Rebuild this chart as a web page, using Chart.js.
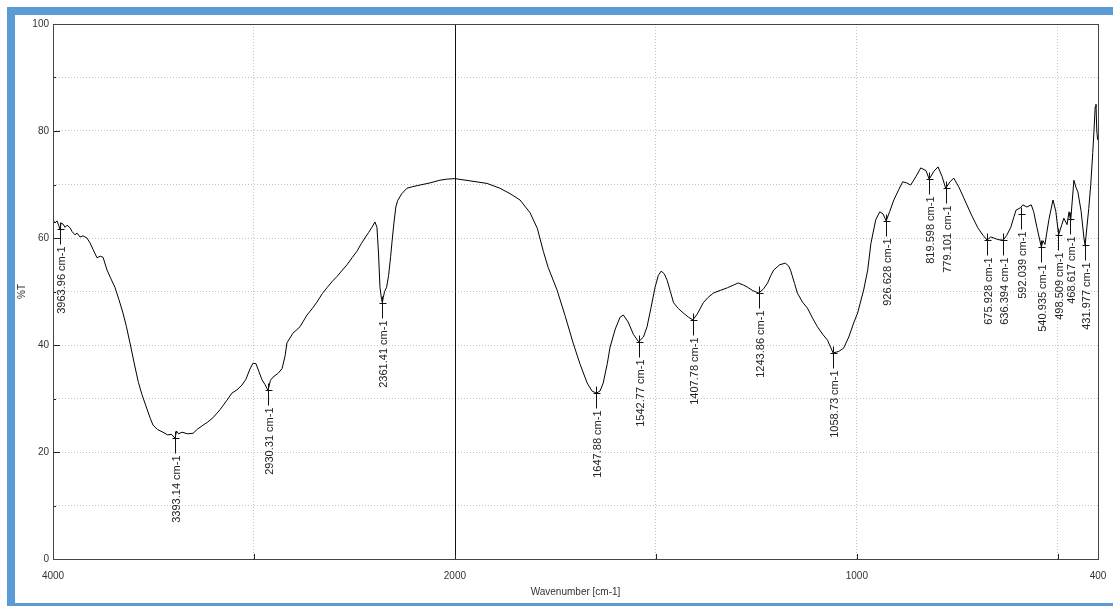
<!DOCTYPE html>
<html>
<head>
<meta charset="utf-8">
<title>FTIR spectrum</title>
<script src="https://cdn.jsdelivr.net/npm/chart.js@4/dist/chart.umd.min.js"></script>
<style>
html, body { margin: 0; padding: 0; background: #fff; }
canvas { display: block; }
</style>
</head>
<body>
<canvas id="ftir" width="1113" height="606"></canvas>
<script>
// spectrum (wavenumber in cm-1, %T)
var wavenumbers = [
    4000, 3990, 3980, 3972, 3965, 3960, 3950, 3940, 3930, 3915, 3905, 3891, 3880, 3866, 3850, 3831,
    3816, 3800, 3781, 3765, 3751, 3731, 3712, 3692, 3672, 3652, 3635, 3617, 3592, 3575, 3557, 3532,
    3515, 3502, 3480, 3453, 3430, 3410, 3393, 3385, 3375, 3358, 3330, 3303, 3280, 3254, 3230, 3204,
    3169, 3134, 3110, 3085, 3060, 3040, 3020, 3005, 2990, 2975, 2960, 2945, 2930, 2918, 2905, 2880,
    2860, 2845, 2836, 2806, 2771, 2736, 2710, 2687, 2660, 2637, 2610, 2587, 2560, 2537, 2510, 2488,
    2465, 2448, 2430, 2413, 2398, 2388, 2380, 2373, 2365, 2361, 2357, 2350, 2340, 2330, 2320, 2313,
    2303, 2294, 2285, 2264, 2239, 2210, 2174, 2124, 2075, 2040, 2000,
    1955, 1920, 1888, 1863, 1838, 1813, 1795, 1780, 1768, 1746, 1726, 1706, 1689, 1671, 1659, 1648,
    1639, 1631, 1621, 1614, 1601, 1589, 1581, 1569, 1556, 1543, 1531, 1522, 1512, 1502, 1494, 1487,
    1479, 1472, 1464, 1456, 1444, 1432, 1419, 1408, 1397, 1382, 1370, 1357, 1340, 1322, 1307, 1295,
    1282, 1272, 1260, 1244, 1232, 1222, 1214, 1207, 1192, 1178, 1170, 1165, 1155, 1148, 1135, 1123,
    1110, 1098, 1085, 1073, 1059, 1045, 1033, 1020, 1008, 998, 983, 973, 965, 953, 943, 935,
    927, 918, 908, 896, 886, 876, 866, 853, 841, 828, 820, 808, 798, 788, 779, 768,
    759, 746, 734, 716, 699, 686, 676, 667, 659, 649, 636, 627, 617, 609, 604, 592,
    587, 577, 566, 560, 552, 541, 537, 532, 522, 512, 505, 498, 490, 485, 477, 472,
    468, 460, 455, 450, 442, 435, 432, 423, 418, 413, 410, 407, 405, 403, 401, 400
];
var transmittance = [
    63.4, 62.8, 63.2, 62.4, 61.6, 62.8, 62.6, 62.0, 62.4, 61.9, 61.2, 60.6, 60.9, 60.2, 60.4, 60.0,
    59.1, 57.8, 56.3, 56.6, 56.4, 54.0, 52.4, 50.8, 48.5, 46.0, 43.5, 40.4, 35.9, 33.0, 30.7, 28.0,
    26.2, 25.0, 24.2, 23.7, 23.2, 23.3, 22.6, 23.9, 23.4, 23.7, 23.4, 23.5, 24.3, 25.0, 25.6, 26.4,
    27.9, 29.7, 31.0, 31.6, 32.5, 33.6, 35.5, 36.6, 36.5, 35.0, 33.5, 32.6, 31.5, 33.4, 34.0, 34.7,
    35.6, 38.0, 40.4, 42.2, 43.4, 45.6, 46.8, 48.0, 49.6, 50.7, 51.9, 52.8, 54.0, 55.0, 56.4, 57.5,
    59.0, 60.0, 61.0, 62.0, 63.0, 62.0, 57.0, 50.8, 48.5, 47.9, 48.8, 50.0, 50.8, 53.0, 56.5, 59.3,
    63.0, 65.8, 67.0, 68.3, 69.3, 69.6, 69.9, 70.3, 70.8, 71.0, 71.1,
    70.6, 70.2, 69.3, 68.3, 67.1, 64.7, 61.8, 57.5, 54.5, 50.3, 45.5, 40.4, 36.5, 32.9, 31.4, 31.0,
    31.4, 32.9, 36.5, 39.6, 43.0, 45.2, 45.6, 44.3, 42.0, 40.6, 41.5, 43.4, 47.0, 50.8, 53.0, 53.8,
    53.3, 52.1, 50.0, 47.9, 46.8, 46.0, 45.2, 44.7, 45.8, 47.9, 48.9, 49.7, 50.2, 50.7, 51.2, 51.6,
    51.2, 50.8, 50.2, 49.7, 50.5, 51.6, 53.0, 54.0, 55.0, 55.3, 54.8, 54.0, 51.5, 49.7, 48.0, 46.9,
    45.0, 43.4, 42.0, 40.9, 38.5, 38.8, 39.4, 41.5, 44.1, 46.0, 50.3, 54.0, 59.0, 63.4, 64.9, 64.5,
    63.2, 65.0, 67.1, 69.0, 70.5, 70.3, 69.9, 71.5, 73.1, 72.6, 71.0, 72.5, 73.3, 71.5, 69.3, 70.5,
    71.2, 69.5, 67.5, 64.5, 61.9, 60.5, 59.6, 60.2, 60.0, 59.7, 59.6, 60.5, 62.0, 64.0, 65.2, 65.7,
    66.2, 65.8, 66.2, 64.9, 62.0, 58.3, 59.5, 58.8, 63.5, 67.1, 65.0, 60.6, 62.5, 63.7, 62.5, 64.9,
    63.2, 70.8, 69.5, 68.6, 65.0, 60.0, 58.7, 65.5, 70.0, 76.0, 80.0, 84.5, 85.0, 80.0, 78.5, 78.3
];

// peak picks
var peakWavenumbers = [3963.96, 3393.14, 2930.31, 2361.41, 1647.88, 1542.77, 1407.78, 1243.86, 1058.73,
    926.628, 819.598, 779.101, 675.928, 636.394, 592.039, 540.935, 498.509, 468.617, 431.977];
var peakTransmittance = [61.6, 22.6, 31.5, 47.9, 31.0, 40.6, 44.7, 49.7, 38.5,
    63.2, 71.0, 69.3, 59.6, 59.6, 64.5, 58.3, 60.6, 63.5, 58.7];
var peakLabels = ['3963.96 cm-1', '3393.14 cm-1', '2930.31 cm-1', '2361.41 cm-1', '1647.88 cm-1',
    '1542.77 cm-1', '1407.78 cm-1', '1243.86 cm-1', '1058.73 cm-1', '926.628 cm-1', '819.598 cm-1',
    '779.101 cm-1', '675.928 cm-1', '636.394 cm-1', '592.039 cm-1', '540.935 cm-1', '498.509 cm-1',
    '468.617 cm-1', '431.977 cm-1'];

var xTicks = [4000, 3000, 2000, 1500, 1000, 500, 400];
var xTickLabels = ['4000', '', '2000', '', '1000', '', '400'];
var yTicks = [0, 10, 20, 30, 40, 50, 60, 70, 80, 90, 100];
var yTickLabels = ['0', '', '20', '', '40', '', '60', '', '80', '', '100'];

var axisBreak = 2000;

// wavenumber axis: 4000-2000 at half the scale of 2000-400
class BreakScale extends Chart.LinearScale {
    getPixelForValue(value) {
        var f = value >= axisBreak ? (4000 - value) / 5200 : (6000 - 2 * value) / 5200;
        return this.getPixelForDecimal(f);
    }
    getValueForPixel(pixel) {
        var u = this.getDecimalForPixel(pixel) * 5200;
        return u <= 2000 ? 4000 - u : (6000 - u) / 2;
    }
}
BreakScale.id = 'ftirbreak';
BreakScale.defaults = Chart.LinearScale.defaults;
Chart.register(BreakScale);

var decor = {
    id: 'ftirDecor',
    beforeDatasetsDraw: function(chart) {
        var ctx = chart.ctx, a = chart.chartArea, x = chart.scales.x;
        var bx = Math.round(x.getPixelForValue(axisBreak)) + 0.5;
        ctx.save();
        ctx.strokeStyle = '#111';
        ctx.lineWidth = 1;
        ctx.beginPath();
        ctx.moveTo(bx, a.top);
        ctx.lineTo(bx, a.bottom);
        ctx.stroke();
        ctx.restore();
    },
    afterDatasetsDraw: function(chart) {
        var ctx = chart.ctx, a = chart.chartArea, x = chart.scales.x, y = chart.scales.y;
        ctx.save();
        ctx.lineWidth = 1;

        // inner tick marks
        ctx.strokeStyle = '#222';
        ctx.beginPath();
        yTicks.forEach(function(v, i) {
            var py = Math.round(y.getPixelForValue(v)) + 0.5;
            ctx.moveTo(a.left, py);
            ctx.lineTo(a.left + (yTickLabels[i] ? 7 : 3), py);
        });
        xTicks.forEach(function(v) {
            var px = Math.round(x.getPixelForValue(v)) + 0.5;
            ctx.moveTo(px, a.bottom);
            ctx.lineTo(px, a.bottom - 5);
        });
        ctx.stroke();

        // plot box
        ctx.strokeStyle = '#444';
        ctx.strokeRect(Math.round(a.left) + 0.5, Math.round(a.top) + 0.5,
            Math.round(a.right - a.left), Math.round(a.bottom - a.top));

        // peak picks
        ctx.strokeStyle = '#111';
        ctx.fillStyle = '#222';
        ctx.font = '11px "Liberation Sans", Arial, sans-serif';
        ctx.textAlign = 'right';
        ctx.textBaseline = 'middle';
        peakWavenumbers.forEach(function(w, i) {
            var px = Math.round(x.getPixelForValue(w)) + 0.5;
            var py = Math.round(y.getPixelForValue(peakTransmittance[i])) + 0.5;
            ctx.beginPath();
            ctx.moveTo(px, py - 7);
            ctx.lineTo(px, py + 15);
            ctx.moveTo(px - 3, py);
            ctx.lineTo(px + 4, py);
            ctx.stroke();
            ctx.save();
            ctx.translate(px, py + 17);
            ctx.rotate(-Math.PI / 2);
            ctx.fillText(peakLabels[i], 0, 1);
            ctx.restore();
        });
        ctx.restore();
    },
    afterDraw: function(chart) {
        var ctx = chart.ctx;
        ctx.save();
        ctx.fillStyle = '#5b9bd5';
        ctx.fillRect(7, 7, 8, 599);
        ctx.fillRect(7, 7, 1106, 8);
        ctx.fillRect(7, 603, 1106, 3);
        ctx.restore();
    }
};

Chart.defaults.font.family = '"Liberation Sans", Arial, sans-serif';
Chart.defaults.font.size = 10;
Chart.defaults.color = '#333';

var points = wavenumbers.map(function(w, i) { return {x: w, y: transmittance[i]}; });

var chart = new Chart(document.getElementById('ftir').getContext('2d'), {
    type: 'line',
    data: {
        datasets: [{
            label: '%T',
            data: points,
            borderColor: '#000',
            borderWidth: 1,
            pointRadius: 0,
            tension: 0,
            fill: false
        }]
    },
    options: {
        responsive: false,
        animation: false,
        layout: { padding: { top: 24, right: 15, bottom: 0, left: 0 } },
        plugins: { legend: { display: false }, tooltip: { enabled: false } },
        scales: {
            x: {
                type: 'ftirbreak',
                min: 400,
                max: 4000,
                afterBuildTicks: function(s) { s.ticks = xTicks.map(function(v) { return {value: v}; }); },
                afterFit: function(s) {
                    s.height = 47;
                    s.paddingLeft = 0;
                    s.paddingRight = 0;
                },
                ticks: {
                    autoSkip: false,
                    maxRotation: 0,
                    padding: 11,
                    color: '#333',
                    callback: function(v, i) { return xTickLabels[xTicks.indexOf(v)]; }
                },
                grid: {
                    drawTicks: false,
                    color: function(c) {
                        var v = c.tick && c.tick.value;
                        return (v === 4000 || v === 400 || v === axisBreak) ? 'rgba(0,0,0,0)' : '#c4c4c4';
                    }
                },
                border: { display: false, dash: [1, 2] },
                title: { display: true, text: 'Wavenumber [cm-1]', color: '#333', padding: { top: 0, bottom: 8 } }
            },
            y: {
                min: 0,
                max: 100,
                afterBuildTicks: function(s) { s.ticks = yTicks.map(function(v) { return {value: v}; }); },
                afterFit: function(s) { s.width = 53; },
                ticks: {
                    padding: 4,
                    color: '#333',
                    callback: function(v) { return yTickLabels[yTicks.indexOf(v)]; }
                },
                grid: { drawTicks: false, color: '#c4c4c4' },
                border: { display: false, dash: [1, 2] },
                title: { display: true, text: '%T', color: '#333', padding: { top: 16, bottom: 0 } }
            }
        }
    },
    plugins: [decor]
});
</script>
</body>
</html>
